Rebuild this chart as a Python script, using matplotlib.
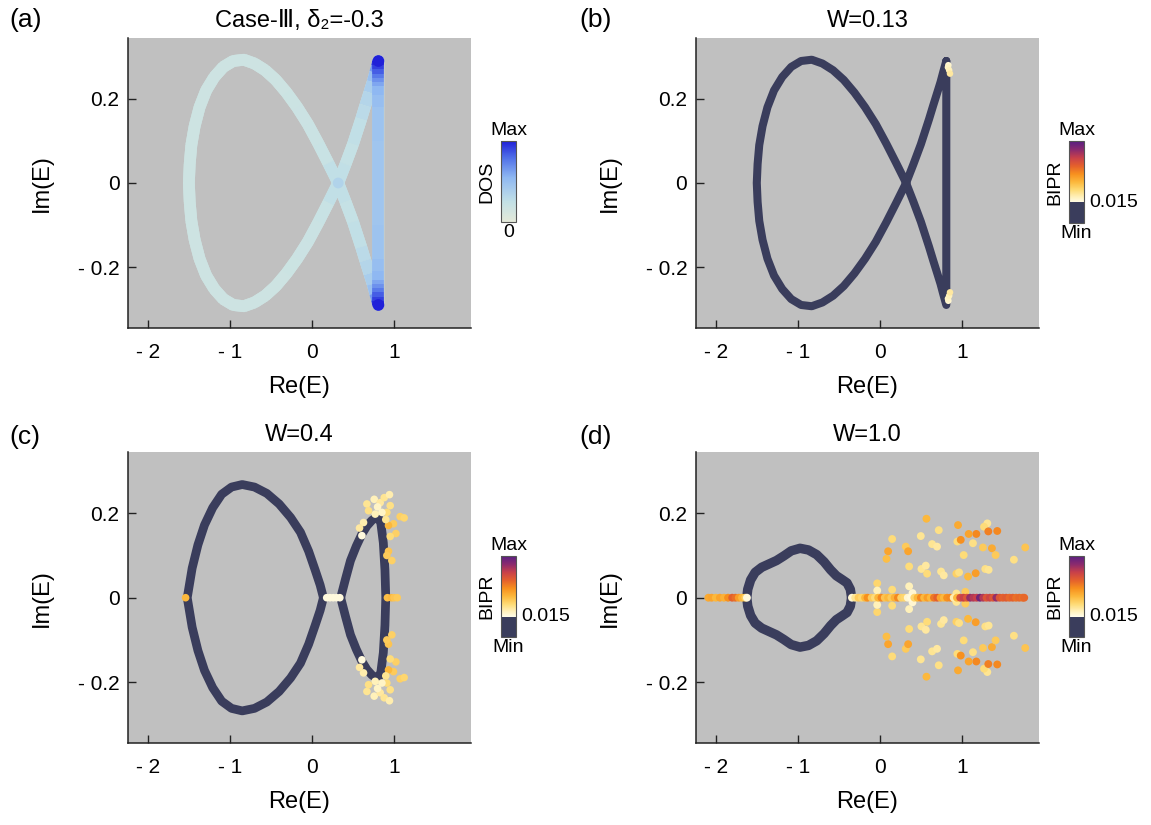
import numpy as np
import matplotlib.pyplot as plt
from matplotlib.collections import LineCollection
from matplotlib.colors import LinearSegmentedColormap, Normalize
from matplotlib.cm import ScalarMappable

plt.rcParams['font.family'] = ['Liberation Sans', 'DejaVu Sans']

# ---------------- data ----------------
# clean spectrum (panels a, b), upper half pieces
branch_re = [0.81, 0.79, 0.77, 0.74, 0.70, 0.65, 0.60, 0.50, 0.41, 0.32]   # tip -> crossing
branch_im = [0.29, 0.276, 0.262, 0.24, 0.215, 0.184, 0.152, 0.092, 0.045, 0.0]
branch_dos = [1.0, 0.75, 0.55, 0.43, 0.36, 0.31, 0.28, 0.24, 0.22, 0.30]
lobe_re = [0.32, 0.20, 0.08, -0.05, -0.18, -0.31, -0.44, -0.57, -0.70, -0.83,
           -0.96, -1.08, -1.19, -1.29, -1.37, -1.43, -1.47, -1.49, -1.50]  # crossing -> left end
lobe_im = [0.0, 0.047, 0.093, 0.14, 0.18, 0.215, 0.245, 0.268, 0.284, 0.293,
           0.29, 0.276, 0.252, 0.22, 0.18, 0.135, 0.09, 0.045, 0.0]
lobe_dos = [0.30, 0.22, 0.20, 0.19, 0.18, 0.18, 0.17, 0.17, 0.17, 0.17,
            0.17, 0.17, 0.17, 0.17, 0.17, 0.17, 0.17, 0.17, 0.17]
vert_re = [0.81] * 21
vert_im = [-0.29, -0.28, -0.27, -0.26, -0.25, -0.24, -0.23, -0.21, -0.18, -0.1, 0.0,
           0.1, 0.18, 0.21, 0.23, 0.24, 0.25, 0.26, 0.27, 0.28, 0.29]
vert_dos = [1.0, 0.95, 0.88, 0.80, 0.72, 0.64, 0.58, 0.52, 0.48, 0.45, 0.45,
            0.45, 0.48, 0.52, 0.58, 0.64, 0.72, 0.80, 0.88, 0.95, 1.0]

# panel b: localized states near the tips (upper half)
b_re = [0.835, 0.83, 0.845, 0.855]
b_im = [0.28, 0.275, 0.268, 0.26]
b_val = [0.017, 0.018, 0.019, 0.021]

# panel c (W=0.4)
c_lobe_re = [0.14, 0.10, 0.04, -0.04, -0.14, -0.26, -0.40, -0.55, -0.70, -0.85,
             -0.98, -1.10, -1.21, -1.31, -1.39, -1.46, -1.52]
c_lobe_im = [0.0, 0.03, 0.065, 0.11, 0.155, 0.19, 0.222, 0.247, 0.262, 0.268,
             0.262, 0.245, 0.213, 0.172, 0.125, 0.07, 0.0]
c_right_re = [0.35, 0.41, 0.47, 0.54, 0.61, 0.67, 0.73, 0.78, 0.81, 0.84, 0.87, 0.89, 0.90]
c_right_im = [0.0, 0.045, 0.088, 0.122, 0.151, 0.170, 0.183, 0.19, 0.19, 0.176, 0.13, 0.065, 0.0]
c_pts_re = [0.67, 0.759, 0.832, 0.881, 0.945, 0.954, 0.913, 0.853, 0.771, 0.69,
            1.075, 1.124, 0.994, 0.933, 1.023, 0.954, 0.629, 0.58, 0.609, 0.933,
            0.974, 0.913, 0.80, 0.90]
c_pts_im = [0.222, 0.233, 0.225, 0.237, 0.244, 0.218, 0.202, 0.202, 0.198, 0.206,
            0.192, 0.189, 0.175, 0.171, 0.152, 0.145, 0.178, 0.165, 0.147, 0.110,
            0.088, 0.100, 0.215, 0.185]
c_pts_val = [0.022, 0.019, 0.021, 0.022, 0.020, 0.023, 0.024, 0.018, 0.019, 0.023,
             0.026, 0.025, 0.027, 0.030, 0.026, 0.024, 0.020, 0.021, 0.016, 0.028,
             0.026, 0.027, 0.018, 0.022]
c_axis_re = [-1.54, 0.18, 0.22, 0.26, 0.30, 0.34, 0.92, 0.97, 1.00, 1.04]
c_axis_val = [0.030, 0.016, 0.016, 0.016, 0.016, 0.016, 0.029, 0.030, 0.028, 0.027]

# panel d (W=1.0)
d_loop_re = [-0.344, -0.36, -0.40, -0.46, -0.53, -0.60, -0.68, -0.77, -0.87, -0.973,
             -1.08, -1.17, -1.26, -1.35, -1.44, -1.52, -1.575, -1.61, -1.622]
d_loop_im = [0.0, 0.02, 0.035, 0.043, 0.052, 0.066, 0.085, 0.102, 0.113, 0.117,
             0.111, 0.099, 0.088, 0.080, 0.072, 0.060, 0.042, 0.02, 0.0]
d_pts_re = [0.568, 0.953, 1.310, 1.27, 1.176, 1.322, 1.431, 0.718, 0.499, 0.150,
            0.101, 0.081, 0.316, 0.345, 0.357, 0.637, 0.697, 0.945, 0.986, 1.083,
            1.135, 1.257, 1.366, 1.411, 1.022, 1.634, 1.772, 0.507, 0.560, 0.576,
            0.746, 0.779, 0.933, 0.966, 1.075, 1.168, 1.285, 1.326, -0.032, -0.032,
            0.150, 0.357, 0.398, 0.933, 1.042]
d_pts_im = [0.187, 0.172, 0.176, 0.168, 0.151, 0.157, 0.158, 0.160, 0.146, 0.139,
            0.110, 0.092, 0.121, 0.110, 0.074, 0.127, 0.121, 0.133, 0.137, 0.151,
            0.129, 0.119, 0.117, 0.101, 0.101, 0.090, 0.119, 0.068, 0.076, 0.057,
            0.062, 0.053, 0.057, 0.060, 0.050, 0.058, 0.068, 0.066, 0.034, 0.017,
            0.019, 0.027, 0.011, 0.010, 0.014]
d_pts_val = [0.030, 0.032, 0.022, 0.024, 0.037, 0.038, 0.037, 0.023, 0.022, 0.024,
             0.033, 0.029, 0.027, 0.033, 0.024, 0.022, 0.021, 0.024, 0.036, 0.033,
             0.023, 0.027, 0.032, 0.027, 0.024, 0.023, 0.028, 0.022, 0.021, 0.024,
             0.022, 0.021, 0.026, 0.023, 0.030, 0.034, 0.023, 0.022, 0.025, 0.019,
             0.024, 0.019, 0.017, 0.022, 0.027]
d_axis_re = [-2.09, -2.05, -2.00, -1.95, -1.90, -1.85, -1.80, -1.76, -1.72, -1.68, -1.64, -1.62,
             -0.34, -0.30, -0.26, -0.22, -0.18, -0.15, -0.10, -0.06, -0.02, 0.02, 0.06,
             0.10, 0.14, 0.18, 0.22, 0.26, 0.30, 0.34, 0.38, 0.42, 0.46, 0.50, 0.54,
             0.58, 0.62, 0.66, 0.70, 0.74, 0.78, 0.82, 0.86, 0.90, 0.94, 0.98, 1.02,
             1.06, 1.10, 1.14, 1.18, 1.22, 1.26, 1.30, 1.34, 1.38, 1.42, 1.46, 1.50,
             1.54, 1.58, 1.62, 1.66, 1.70, 1.74, 1.76]
d_axis_val = [0.032, 0.033, 0.030, 0.033, 0.031, 0.036, 0.042, 0.040, 0.034, 0.030, 0.026, 0.016,
              0.017, 0.022, 0.027, 0.025, 0.030, 0.036, 0.027, 0.024, 0.030, 0.037, 0.028,
              0.030, 0.027, 0.031, 0.037, 0.026, 0.025, 0.017, 0.016, 0.025, 0.030, 0.037, 0.030,
              0.034, 0.030, 0.039, 0.042, 0.033, 0.030, 0.036, 0.037, 0.020, 0.030, 0.045, 0.048,
              0.044, 0.053, 0.050, 0.048, 0.057, 0.050, 0.044, 0.047, 0.044, 0.053, 0.044, 0.042,
              0.043, 0.041, 0.042, 0.040, 0.041, 0.040, 0.041]

# ---------------- styles ----------------
BG = '#c0c0c0'
NAVY = '#3a3d5c'
dos_cmap = LinearSegmentedColormap.from_list(
    'dos', [(0, '#e4e9d9'), (0.25, '#c2e0e6'), (0.55, '#8fb8f2'), (0.8, '#4f6ee8'), (1, '#2020d8')])
bipr_cmap = LinearSegmentedColormap.from_list(
    'bipr', [(0, NAVY), (0.2499, NAVY), (0.25, '#fffce8'), (0.32, '#fff0b8'), (0.40, '#fedc78'),
             (0.50, '#fcb83c'), (0.60, '#f7901e'), (0.70, '#e4602c'), (0.80, '#c8404a'),
             (0.90, '#8a2a6e'), (1.0, '#5a1f82')], N=512)
bipr_norm = Normalize(0, 0.06)


def closed_clean():
    re = branch_re + lobe_re[1:] + lobe_re[::-1][1:] + branch_re[::-1][1:] + vert_re[1:]
    im = (branch_im + [-v for v in lobe_im[1:]] + lobe_im[::-1][1:]
          + [-v for v in branch_im[::-1][1:]] + vert_im[1:])
    dos = branch_dos + lobe_dos[1:] + lobe_dos[::-1][1:] + branch_dos[::-1][1:] + vert_dos[1:]
    return np.array(re), np.array(im), np.array(dos)


def style_axes(ax, title):
    ax.set_facecolor(BG)
    ax.set_xlim(-2.245, 1.94)
    ax.set_ylim(-0.344, 0.344)
    for s in ['top', 'right']:
        ax.spines[s].set_visible(False)
    for s in ['left', 'bottom']:
        ax.spines[s].set_linewidth(1.1)
        ax.spines[s].set_color('#222222')
    ax.set_xticks([-2, -1, 0, 1])
    ax.set_xticklabels(['- 2', '- 1', '0', '1'])
    ax.set_yticks([-0.2, 0, 0.2])
    ax.set_yticklabels(['- 0.2', '0', '0.2'])
    ax.tick_params(axis='both', direction='in', length=5.5, width=1.0, labelsize=15, color='#222222')
    ax.tick_params(axis='x', pad=11)
    ax.tick_params(axis='y', pad=6)
    ax.set_xlabel('Re(E)', fontsize=17, labelpad=10)
    ax.set_ylabel('Im(E)', fontsize=17, labelpad=18)
    ax.set_title(title, fontsize=17, pad=8)


def add_cbar(rect, cmap, norm, label, top, bottom, mid=None):
    cax = fig.add_axes(rect)
    cb = fig.colorbar(ScalarMappable(norm=norm, cmap=cmap), cax=cax, ticks=[])
    cb.outline.set_edgecolor('#555555')
    cb.outline.set_linewidth(0.8)
    cax.text(0.5, 1.03, top, transform=cax.transAxes, ha='center', va='bottom', fontsize=14)
    cax.text(0.5, -0.03, bottom, transform=cax.transAxes, ha='center', va='top', fontsize=14)
    cax.text(-0.35, 0.5, label, transform=cax.transAxes, ha='right', va='center',
             rotation=90, fontsize=14)
    if mid is not None:
        cax.text(1.35, 0.25, mid, transform=cax.transAxes, ha='left', va='center', fontsize=14)


def scatter_sym(ax, re, im, val, s=28):
    re = np.concatenate([re, re])
    im = np.concatenate([im, [-v for v in im]])
    val = np.concatenate([val, val])
    ax.scatter(re, im, c=val, cmap=bipr_cmap, norm=bipr_norm, s=s, edgecolors='none', zorder=4)


fig = plt.figure(figsize=(11.51, 8.25), dpi=100)
ax_a = fig.add_axes([0.111, 0.6028, 0.2983, 0.3508])
ax_b = fig.add_axes([0.6044, 0.6028, 0.2983, 0.3508])
ax_c = fig.add_axes([0.111, 0.0994, 0.2983, 0.3522])
ax_d = fig.add_axes([0.6044, 0.0994, 0.2983, 0.3522])

re, im, dos = closed_clean()

# (a) DOS-colored clean spectrum: plain round-joined base, butt-capped colored segments on top
ax_a.plot(re, im, color=dos_cmap(0.17), lw=8.5, solid_capstyle='round',
          solid_joinstyle='round', zorder=2)
pts = np.column_stack([re, im])
segs = np.stack([pts[:-1], pts[1:]], axis=1)
seg_dos = (dos[:-1] + dos[1:]) / 2
lc = LineCollection(segs, cmap=dos_cmap, norm=Normalize(0, 1), linewidths=8.5,
                    capstyle='butt', joinstyle='round', zorder=3)
lc.set_array(seg_dos)
ax_a.add_collection(lc)
ax_a.scatter([vert_re[0], vert_re[-1]], [vert_im[0], vert_im[-1]], s=72,
             color=dos_cmap(1.0), edgecolors='none', zorder=4)
ax_a.scatter([0.32], [0.0], s=60, color=dos_cmap(0.35), edgecolors='none', zorder=4)
style_axes(ax_a, 'Case-Ⅲ, δ₂=-0.3')
add_cbar([0.4353, 0.7309, 0.013, 0.098], dos_cmap, Normalize(0, 1), 'DOS', 'Max', '0')

# (b) W=0.13
ax_b.plot(re, im, color=NAVY, lw=5.8, solid_capstyle='round', solid_joinstyle='round', zorder=3)
scatter_sym(ax_b, b_re, b_im, b_val, s=22)
style_axes(ax_b, 'W=0.13')
add_cbar([0.9288, 0.730, 0.013, 0.0985], bipr_cmap, bipr_norm, 'BIPR', 'Max', 'Min', '0.015')

# (c) W=0.4
lre = c_lobe_re + c_lobe_re[::-1][1:]
lim = c_lobe_im + [-v for v in c_lobe_im[::-1][1:]]
ax_c.plot(lre, lim, color=NAVY, lw=6.3, solid_capstyle='round', solid_joinstyle='round', zorder=3)
rre = c_right_re + c_right_re[::-1][1:]
rim = c_right_im + [-v for v in c_right_im[::-1][1:]]
ax_c.plot(rre, rim, color=NAVY, lw=6.3, solid_capstyle='round', solid_joinstyle='round', zorder=3)
scatter_sym(ax_c, c_pts_re, c_pts_im, c_pts_val, s=30)
ax_c.scatter(c_axis_re, np.zeros(len(c_axis_re)), c=c_axis_val, cmap=bipr_cmap, norm=bipr_norm,
             s=30, edgecolors='none', zorder=5)
style_axes(ax_c, 'W=0.4')
add_cbar([0.4353, 0.228, 0.013, 0.098], bipr_cmap, bipr_norm, 'BIPR', 'Max', 'Min', '0.015')

# (d) W=1.0
dre = d_loop_re + d_loop_re[::-1][1:]
dim = d_loop_im + [-v for v in d_loop_im[::-1][1:]]
ax_d.plot(dre, dim, color=NAVY, lw=6.8, solid_capstyle='round', solid_joinstyle='round', zorder=3)
scatter_sym(ax_d, d_pts_re, d_pts_im, d_pts_val, s=32)
ax_d.scatter(d_axis_re, np.zeros(len(d_axis_re)), c=d_axis_val, cmap=bipr_cmap, norm=bipr_norm,
             s=32, edgecolors='none', zorder=5)
style_axes(ax_d, 'W=1.0')
add_cbar([0.9288, 0.2282, 0.013, 0.0978], bipr_cmap, bipr_norm, 'BIPR', 'Max', 'Min', '0.015')

for lab, x, y in [('(a)', 0.008, 0.976), ('(b)', 0.503, 0.976), ('(c)', 0.008, 0.47), ('(d)', 0.503, 0.47)]:
    fig.text(x, y, lab, fontsize=19, ha='left', va='center')

fig.savefig('out.png', dpi=100)
